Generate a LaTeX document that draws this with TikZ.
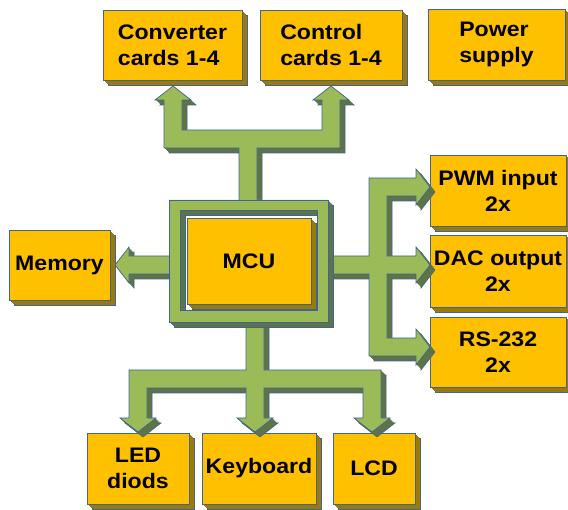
\documentclass[tikz,border=0pt]{standalone}
\usepackage{fontspec}
\setmainfont{Liberation Sans}[FakeStretch=1.1]
\usepackage{tikz}
\usetikzlibrary{shadows}
\definecolor{cardgold}{HTML}{FFC000}
\definecolor{cardshade}{HTML}{9C7A0A}
\definecolor{busgreen}{HTML}{9BBB59}
\definecolor{busshade}{HTML}{5F7446}
\definecolor{edgeblue}{HTML}{3F6496}

\tikzset{
  extrude/.style={
    general shadow={shadow xshift=5pt,shadow yshift=-5pt,fill=#1,draw=edgeblue,line width=0.6pt},
    general shadow={shadow xshift=4pt,shadow yshift=-4pt,fill=#1},
    general shadow={shadow xshift=3pt,shadow yshift=-3pt,fill=#1},
    general shadow={shadow xshift=2pt,shadow yshift=-2pt,fill=#1},
    general shadow={shadow xshift=1pt,shadow yshift=-1pt,fill=#1}},
  card/.style={draw=edgeblue, fill=cardgold, line width=0.7pt, inner sep=0pt,
    align=center, minimum height=70pt,
    font=\bfseries\fontsize{21}{26}\selectfont, extrude=cardshade},
  bus/.style={draw=edgeblue, fill=busgreen, line width=0.7pt, extrude=busshade}
}

\begin{document}
\begin{tikzpicture}[x=1pt,y=-1pt]
    \useasboundingbox (0,0) rectangle (568,510);

    % peripheral cards
    \node[card, minimum width=139pt, align=left] (conv) at (172.5,45) {Converter\\cards 1-4};
    \node[card, minimum width=142pt, align=left] (ctrl) at (331,45) {Control\\cards 1-4};
    \node[card, minimum width=137pt, minimum height=71pt, align=left] (power) at (496.5,44.5) {Power\\supply};
    \node[card, minimum width=136pt, minimum height=71pt] (pwm) at (498,190.5) {PWM input\\2x};
    \node[card, minimum width=136pt, minimum height=72pt] (dac) at (498,271) {DAC output\\2x};
    \node[card, minimum width=136pt] (rs) at (498,352) {RS-232\\2x};
    \node[card, minimum width=101pt] (mem) at (59.5,265) {Memory};
    \node[card, minimum width=102pt, minimum height=71pt] (led) at (138,468.5) {LED\\diods};
    \node[card, minimum width=114pt, minimum height=71pt] (kbd) at (259,468.5) {Keyboard};
    \node[card, minimum width=82pt, minimum height=71pt] (lcd) at (374,468.5) {LCD};

    % upper bus
    \path[bus] (239,204) -- (239,148) -- (164,148) -- (164,100) -- (155,100) -- (173,86)
        -- (191,100) -- (182,100) -- (182,130) -- (322,130) -- (322,100) -- (313,100)
        -- (331,86) -- (349,100) -- (340,100) -- (340,148) -- (257,148) -- (257,204) -- cycle;
    % right bus
    \path[bus] (324,256) -- (369,256) -- (369,178) -- (416,178) -- (416,169) -- (430,187)
        -- (416,205) -- (416,196) -- (387,196) -- (387,256) -- (416,256) -- (416,247)
        -- (430,265) -- (416,283) -- (416,274) -- (387,274) -- (387,338) -- (416,338)
        -- (416,329) -- (430,347) -- (416,365) -- (416,356) -- (369,356) -- (369,274)
        -- (324,274) -- cycle;
    % memory arrow
    \path[bus] (173,256) -- (129,256) -- (129,247) -- (115,265) -- (129,283) -- (129,274)
        -- (173,274) -- cycle;
    % lower bus
    \path[bus] (246,318) -- (246,370) -- (129,370) -- (129,418) -- (120,418) -- (138,432)
        -- (156,418) -- (147,418) -- (147,388) -- (246,388) -- (246,418) -- (237,418)
        -- (255,432) -- (273,418) -- (264,418) -- (264,388) -- (363,388) -- (363,418)
        -- (354,418) -- (372,432) -- (390,418) -- (381,418) -- (381,370) -- (264,370)
        -- (264,318) -- cycle;

    % frame round the MCU
    \begin{scope}[even odd rule]
        \path[bus] (169,200) rectangle (328,322) (180,210) rectangle (317,310);
    \end{scope}
    \node[card, minimum width=124pt, minimum height=86pt] (mcu) at (249,261) {MCU};
\end{tikzpicture}
\end{document}
